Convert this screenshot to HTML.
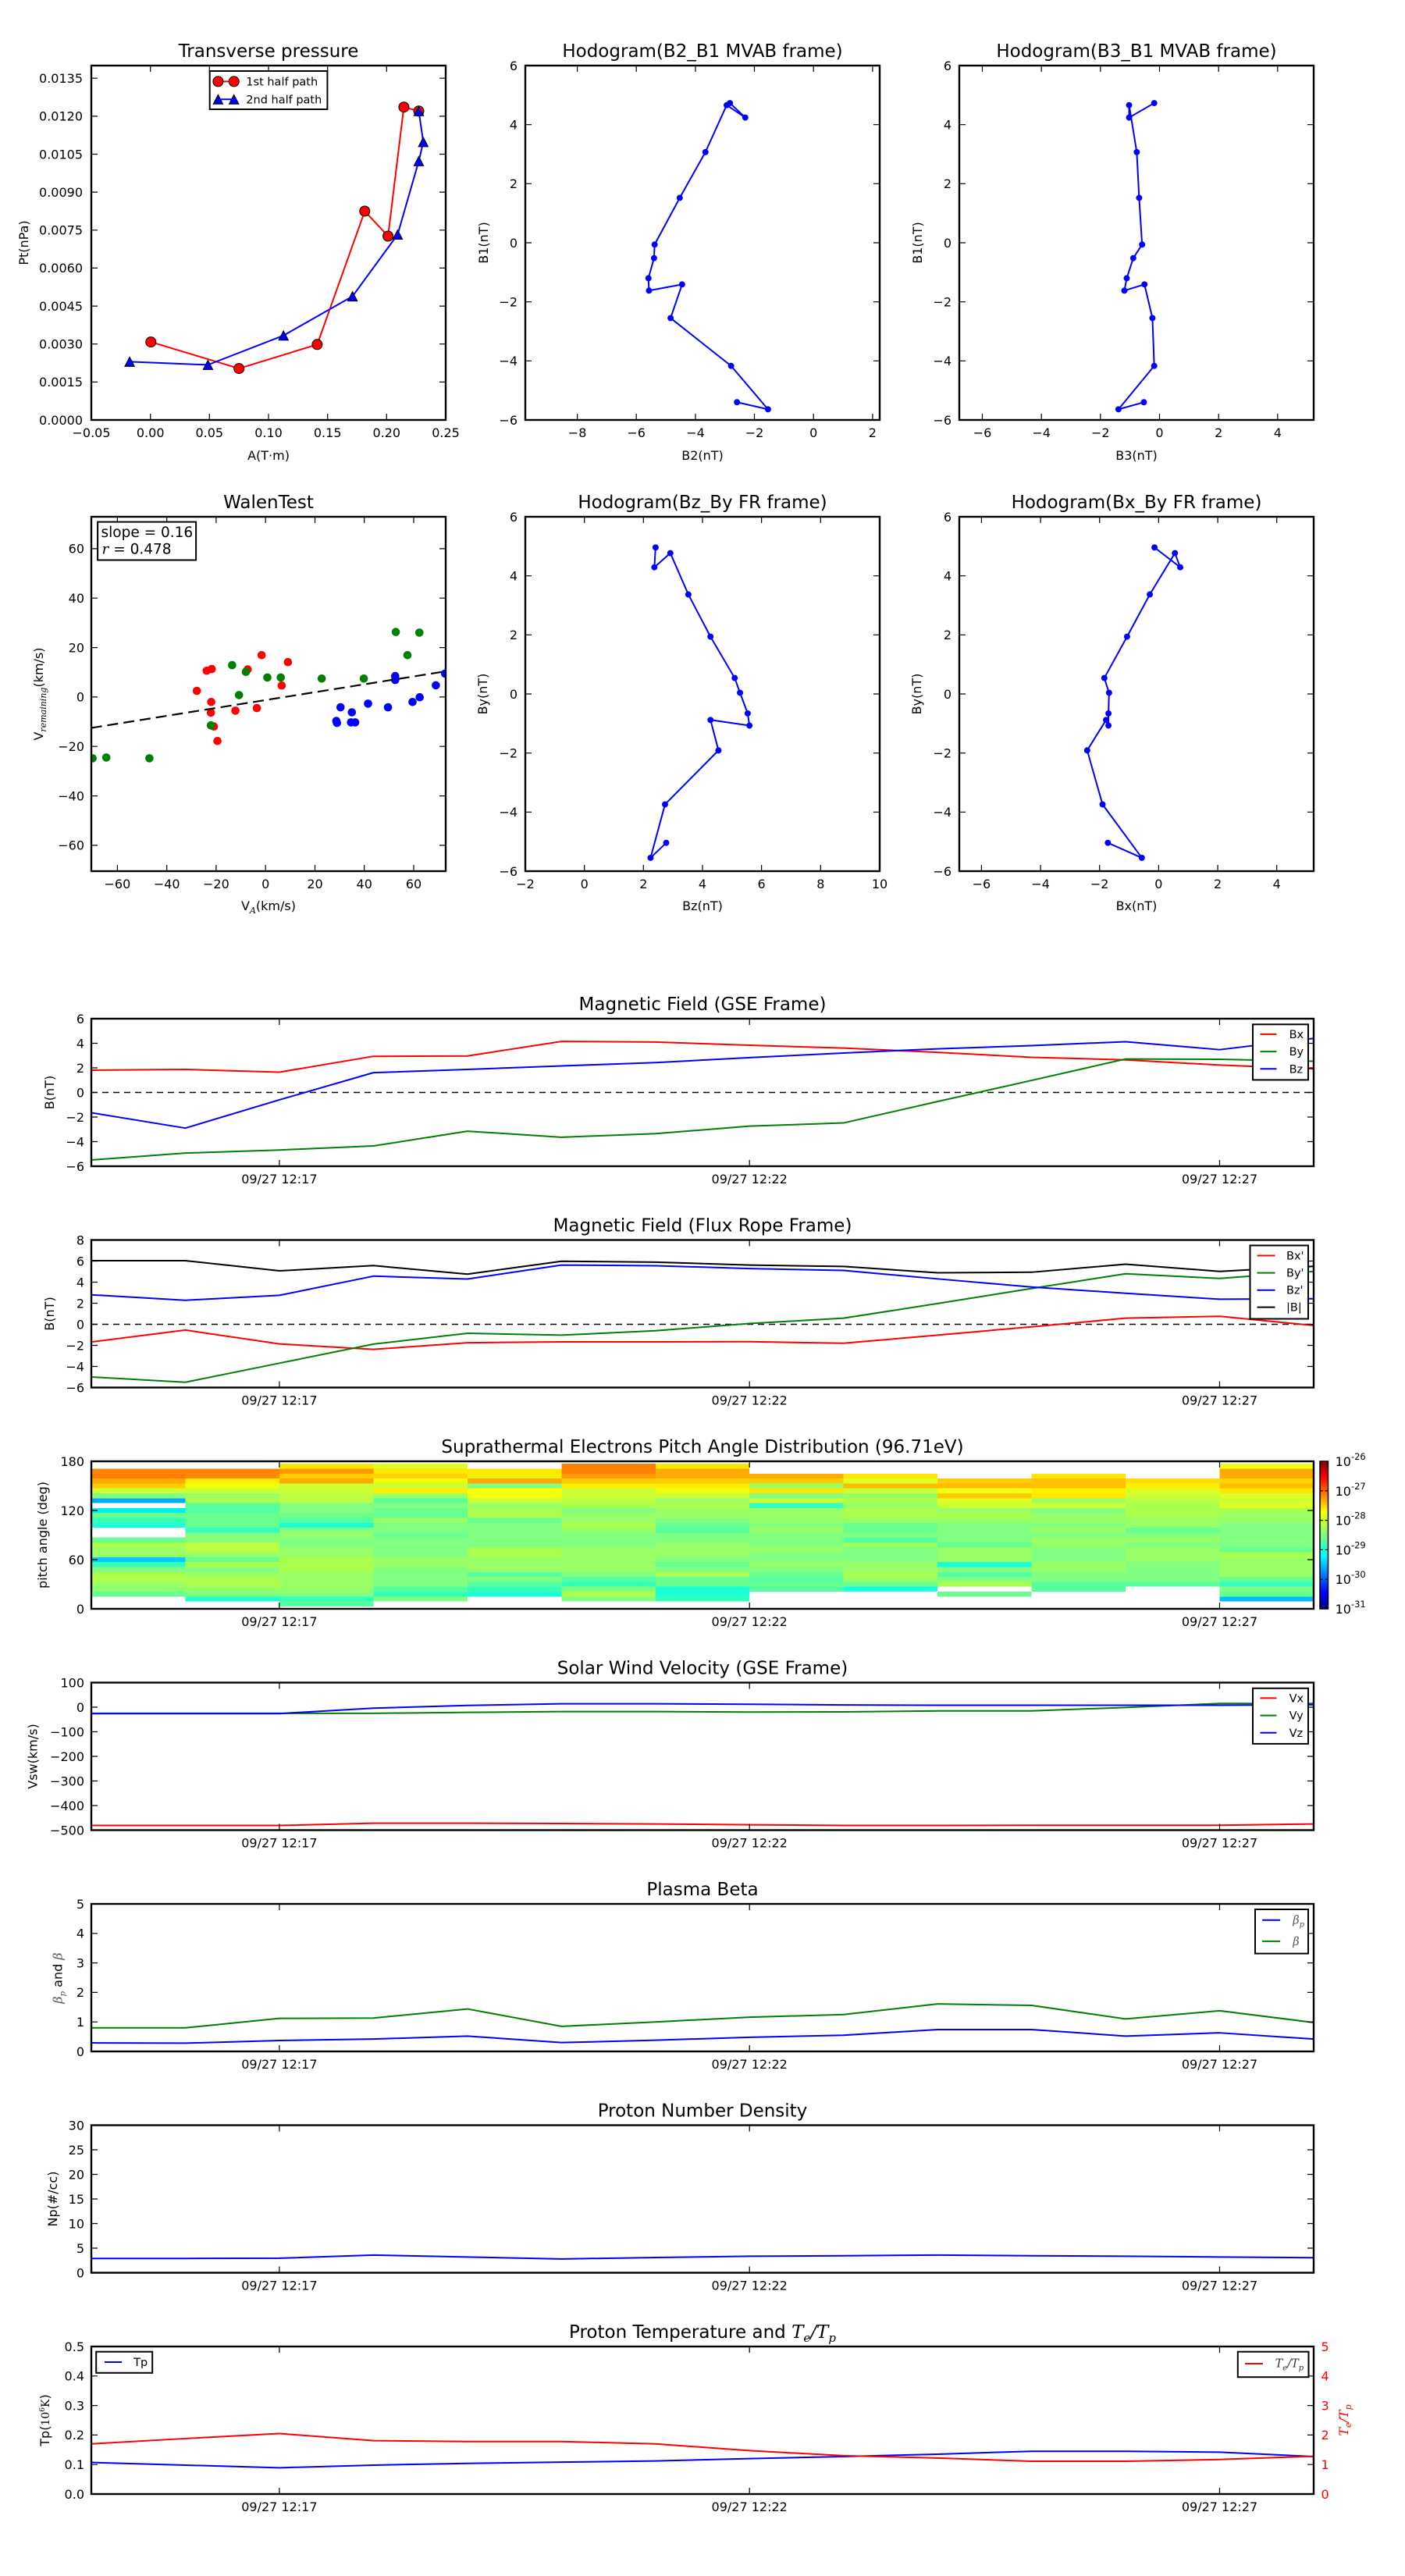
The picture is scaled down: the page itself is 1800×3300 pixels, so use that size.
<!DOCTYPE html>
<html><head><meta charset="utf-8">
<style>
html,body{margin:0;padding:0;background:#fff}
svg{display:block}
text{font-family:"DejaVu Sans","Liberation Sans",sans-serif;fill:#000}
.t{font-size:23px;text-anchor:middle}
.yl{font-size:16px;text-anchor:end}
.xl{font-size:16px;text-anchor:middle}
.lb{font-size:16px;text-anchor:middle}
.lg{font-size:14.5px}
.m{font-family:"DejaVu Serif","Liberation Serif",serif;font-style:italic}
.ax{fill:none;stroke:#000;stroke-width:2.4}
.tc{fill:none;stroke:#000;stroke-width:1.2}
.ln{fill:none;stroke-width:2;vector-effect:non-scaling-stroke;stroke-linejoin:round}
.lf{fill:#fff;stroke:#000;stroke-width:2}
</style></head><body>
<svg xmlns="http://www.w3.org/2000/svg" width="1800" height="3300" viewBox="0 0 1800 3300">
<defs>
<clipPath id="cp1"><rect x="117" y="84" width="454" height="454"/></clipPath>
<clipPath id="cp2"><rect x="673" y="84" width="454" height="454"/></clipPath>
<clipPath id="cp3"><rect x="1229" y="84" width="454" height="454"/></clipPath>
<clipPath id="cp4"><rect x="117" y="662" width="454" height="454"/></clipPath>
<clipPath id="cp5"><rect x="673" y="662" width="454" height="454"/></clipPath>
<clipPath id="cp6"><rect x="1229" y="662" width="454" height="454"/></clipPath>
<clipPath id="ct1"><rect x="117" y="1305" width="1566" height="189"/></clipPath>
<clipPath id="ct2"><rect x="117" y="1588.5" width="1566" height="189"/></clipPath>
<clipPath id="ct4"><rect x="117" y="2155.5" width="1566" height="189"/></clipPath>
<clipPath id="ct5"><rect x="117" y="2439" width="1566" height="189"/></clipPath>
<clipPath id="ct6"><rect x="117" y="2722.5" width="1566" height="189"/></clipPath>
<clipPath id="ct7"><rect x="117" y="3006" width="1566" height="189"/></clipPath>
<linearGradient id="jet" x1="0" y1="0" x2="0" y2="1">
<stop offset="0" stop-color="#800000"/><stop offset="0.11" stop-color="#ff0000"/><stop offset="0.34" stop-color="#ffff00"/><stop offset="0.5" stop-color="#7dff7a"/><stop offset="0.64" stop-color="#00ffff"/><stop offset="0.89" stop-color="#0000ff"/><stop offset="1" stop-color="#000080"/>
</linearGradient>
</defs>
<rect x="0" y="0" width="1800" height="3300" fill="#fff"/>

<!-- ========== Transverse pressure ========== -->
<text class="t" x="344" y="73">Transverse pressure</text>
<g clip-path="url(#cp1)">
<polyline fill="none" stroke="#ff0000" stroke-width="2" points="193.3,438.1 306.2,472.1 406.4,441.3 467.3,270.5 497.1,302.5 517.4,137.2 536.5,142.3"/>
<g fill="#ff0000" stroke="#000" stroke-width="1">
<circle cx="193.3" cy="438.1" r="6.5"/><circle cx="306.2" cy="472.1" r="6.5"/><circle cx="406.4" cy="441.3" r="6.5"/><circle cx="467.3" cy="270.5" r="6.5"/><circle cx="497.1" cy="302.5" r="6.5"/><circle cx="517.4" cy="137.2" r="6.5"/><circle cx="536.5" cy="142.3" r="6.5"/>
</g>
<polyline fill="none" stroke="#0000ff" stroke-width="2" points="166.1,463.4 266.4,467.4 363.2,429.8 451.6,379.6 509.4,300.5 536.5,206.4 542.3,181.9 536.5,142.3"/>
<g fill="#0000ff" stroke="#000" stroke-width="1">
<polygon points="166.1,457.4 159.9,469.4 172.3,469.4"/>
<polygon points="266.4,461.4 260.2,473.4 272.6,473.4"/>
<polygon points="363.2,423.8 357,435.8 369.4,435.8"/>
<polygon points="451.6,373.6 445.4,385.6 457.8,385.6"/>
<polygon points="509.4,294.5 503.2,306.5 515.6,306.5"/>
<polygon points="536.5,200.4 530.3,212.4 542.7,212.4"/>
<polygon points="542.3,175.9 536.1,187.9 548.5,187.9"/>
<polygon points="536.5,136.3 530.3,148.3 542.7,148.3"/>
</g>
</g>
<path class="tc" d="M117 489.4h8M117 440.7h8M117 392.1h8M117 343.4h8M117 294.8h8M117 246.1h8M117 197.5h8M117 148.9h8M117 100.2h8M571 489.4h-8M571 440.7h-8M571 392.1h-8M571 343.4h-8M571 294.8h-8M571 246.1h-8M571 197.5h-8M571 148.9h-8M571 100.2h-8M192.7 538v-8M268.3 538v-8M344 538v-8M419.7 538v-8M495.3 538v-8M192.7 84v8M268.3 84v8M344 84v8M419.7 84v8M495.3 84v8"/>
<rect class="ax" x="117" y="84" width="454" height="454"/>
<g>
<rect class="lf" x="268.7" y="91" width="150.7" height="49"/>
<line x1="279.4" y1="104.4" x2="299.7" y2="104.4" stroke="#ff0000" stroke-width="2"/>
<circle cx="279.4" cy="104.4" r="6.5" fill="#ff0000" stroke="#000"/><circle cx="299.7" cy="104.4" r="6.5" fill="#ff0000" stroke="#000"/>
<text class="lg" x="315.3" y="109.4">1st half path</text>
<line x1="279.4" y1="127.3" x2="299.7" y2="127.3" stroke="#0000ff" stroke-width="2"/>
<polygon points="279.4,121.3 273.2,133.3 285.6,133.3" fill="#0000ff" stroke="#000"/><polygon points="299.7,121.3 293.5,133.3 305.9,133.3" fill="#0000ff" stroke="#000"/>
<text class="lg" x="315.3" y="132.3">2nd half path</text>
</g>
<text class="yl" x="106" y="543.8">0.0000</text><text class="yl" x="106" y="495.2">0.0015</text><text class="yl" x="106" y="446.5">0.0030</text><text class="yl" x="106" y="397.9">0.0045</text><text class="yl" x="106" y="349.2">0.0060</text><text class="yl" x="106" y="300.6">0.0075</text><text class="yl" x="106" y="251.9">0.0090</text><text class="yl" x="106" y="203.3">0.0105</text><text class="yl" x="106" y="154.7">0.0120</text><text class="yl" x="106" y="106">0.0135</text>
<text class="xl" x="117" y="560">−0.05</text><text class="xl" x="192.7" y="560">0.00</text><text class="xl" x="268.3" y="560">0.05</text><text class="xl" x="344" y="560">0.10</text><text class="xl" x="419.7" y="560">0.15</text><text class="xl" x="495.3" y="560">0.20</text><text class="xl" x="571" y="560">0.25</text>
<text class="lb" x="344" y="589">A(T·m)</text>
<text class="lb" transform="translate(36,311) rotate(-90)">Pt(nPa)</text>

<!-- ========== Hodogram B2_B1 ========== -->
<text class="t" x="900" y="73">Hodogram(B2_B1 MVAB frame)</text>
<g clip-path="url(#cp2)"><g transform="translate(1042.2,311) scale(37.83,-37.83)">
<polyline class="ln" stroke="#0000ff" points="-2.83,4.73 -2.31,4.24 -2.94,4.66 -3.66,3.07 -4.53,1.52 -5.38,-0.06 -5.40,-0.52 -5.59,-1.20 -5.57,-1.62 -4.45,-1.41 -4.84,-2.55 -2.79,-4.17 -1.54,-5.64 -2.59,-5.40"/>
<g fill="#0000ff">
<circle cx="-2.83" cy="4.73" r="0.105"/><circle cx="-2.31" cy="4.24" r="0.105"/><circle cx="-2.94" cy="4.66" r="0.105"/><circle cx="-3.66" cy="3.07" r="0.105"/><circle cx="-4.53" cy="1.52" r="0.105"/><circle cx="-5.38" cy="-0.06" r="0.105"/><circle cx="-5.40" cy="-0.52" r="0.105"/><circle cx="-5.59" cy="-1.20" r="0.105"/><circle cx="-5.57" cy="-1.62" r="0.105"/><circle cx="-4.45" cy="-1.41" r="0.105"/><circle cx="-4.84" cy="-2.55" r="0.105"/><circle cx="-2.79" cy="-4.17" r="0.105"/><circle cx="-1.54" cy="-5.64" r="0.105"/><circle cx="-2.59" cy="-5.40" r="0.105"/>
</g></g></g>
<path class="tc" d="M673 159.7h8M673 235.3h8M673 311h8M673 386.7h8M673 462.3h8M1127 159.7h-8M1127 235.3h-8M1127 311h-8M1127 386.7h-8M1127 462.3h-8M739.6 538v-8M815.2 538v-8M891 538v-8M966.5 538v-8M1042.2 538v-8M1117.9 538v-8M739.6 84v8M815.2 84v8M891 84v8M966.5 84v8M1042.2 84v8M1117.9 84v8"/>
<rect class="ax" x="673" y="84" width="454" height="454"/>
<text class="yl" x="663" y="89.8">6</text><text class="yl" x="663" y="165.5">4</text><text class="yl" x="663" y="241.1">2</text><text class="yl" x="663" y="316.8">0</text><text class="yl" x="663" y="392.5">−2</text><text class="yl" x="663" y="468.1">−4</text><text class="yl" x="663" y="543.8">−6</text>
<text class="xl" x="739.6" y="560">−8</text><text class="xl" x="815.2" y="560">−6</text><text class="xl" x="891" y="560">−4</text><text class="xl" x="966.5" y="560">−2</text><text class="xl" x="1042.2" y="560">0</text><text class="xl" x="1117.9" y="560">2</text>
<text class="lb" x="900" y="589">B2(nT)</text>
<text class="lb" transform="translate(625,311) rotate(-90)">B1(nT)</text>

<!-- ========== Hodogram B3_B1 ========== -->
<text class="t" x="1456" y="73">Hodogram(B3_B1 MVAB frame)</text>
<g clip-path="url(#cp3)"><g transform="translate(1485.5,311) scale(37.83,-37.83)">
<polyline class="ln" stroke="#0000ff" points="-0.18,4.73 -1.03,4.24 -1.03,4.66 -0.77,3.07 -0.69,1.52 -0.59,-0.06 -0.89,-0.52 -1.11,-1.20 -1.19,-1.62 -0.51,-1.41 -0.24,-2.55 -0.18,-4.17 -1.39,-5.64 -0.53,-5.40"/>
<g fill="#0000ff">
<circle cx="-0.18" cy="4.73" r="0.105"/><circle cx="-1.03" cy="4.24" r="0.105"/><circle cx="-1.03" cy="4.66" r="0.105"/><circle cx="-0.77" cy="3.07" r="0.105"/><circle cx="-0.69" cy="1.52" r="0.105"/><circle cx="-0.59" cy="-0.06" r="0.105"/><circle cx="-0.89" cy="-0.52" r="0.105"/><circle cx="-1.11" cy="-1.20" r="0.105"/><circle cx="-1.19" cy="-1.62" r="0.105"/><circle cx="-0.51" cy="-1.41" r="0.105"/><circle cx="-0.24" cy="-2.55" r="0.105"/><circle cx="-0.18" cy="-4.17" r="0.105"/><circle cx="-1.39" cy="-5.64" r="0.105"/><circle cx="-0.53" cy="-5.40" r="0.105"/>
</g></g></g>
<path class="tc" d="M1229 159.7h8M1229 235.3h8M1229 311h8M1229 386.7h8M1229 462.3h8M1683 159.7h-8M1683 235.3h-8M1683 311h-8M1683 386.7h-8M1683 462.3h-8M1258.5 538v-8M1334.2 538v-8M1409.8 538v-8M1485.5 538v-8M1561.2 538v-8M1636.8 538v-8M1258.5 84v8M1334.2 84v8M1409.8 84v8M1485.5 84v8M1561.2 84v8M1636.8 84v8"/>
<rect class="ax" x="1229" y="84" width="454" height="454"/>
<text class="yl" x="1219" y="89.8">6</text><text class="yl" x="1219" y="165.5">4</text><text class="yl" x="1219" y="241.1">2</text><text class="yl" x="1219" y="316.8">0</text><text class="yl" x="1219" y="392.5">−2</text><text class="yl" x="1219" y="468.1">−4</text><text class="yl" x="1219" y="543.8">−6</text>
<text class="xl" x="1258.5" y="560">−6</text><text class="xl" x="1334.2" y="560">−4</text><text class="xl" x="1409.8" y="560">−2</text><text class="xl" x="1485.5" y="560">0</text><text class="xl" x="1561.2" y="560">2</text><text class="xl" x="1636.8" y="560">4</text>
<text class="lb" x="1456" y="589">B3(nT)</text>
<text class="lb" transform="translate(1181,311) rotate(-90)">B1(nT)</text>

<!-- ========== WalenTest ========== -->
<text class="t" x="344" y="651">WalenTest</text>
<g clip-path="url(#cp4)">
<g fill="#ff0000">
<circle cx="252.2" cy="885" r="5.3"/><circle cx="264.8" cy="859.3" r="5.3"/><circle cx="271.3" cy="857.1" r="5.3"/><circle cx="270.6" cy="899.3" r="5.3"/><circle cx="270.2" cy="912.9" r="5.3"/><circle cx="274" cy="930.7" r="5.3"/><circle cx="278.6" cy="949.3" r="5.3"/><circle cx="301.6" cy="910.4" r="5.3"/><circle cx="317.3" cy="857.5" r="5.3"/><circle cx="329.1" cy="907.1" r="5.3"/><circle cx="335.2" cy="839.3" r="5.3"/><circle cx="360.9" cy="878.2" r="5.3"/><circle cx="368.9" cy="848.2" r="5.3"/>
</g>
<g fill="#0000ff">
<circle cx="430.9" cy="923.6" r="5.3"/><circle cx="431.7" cy="926.1" r="5.3"/><circle cx="436.3" cy="906.1" r="5.3"/><circle cx="450.8" cy="912.5" r="5.3"/><circle cx="449.7" cy="925.4" r="5.3"/><circle cx="455" cy="925.4" r="5.3"/><circle cx="471.5" cy="901.4" r="5.3"/><circle cx="497.1" cy="906.1" r="5.3"/><circle cx="506.3" cy="866.1" r="5.3"/><circle cx="506.3" cy="871.1" r="5.3"/><circle cx="528.5" cy="899.3" r="5.3"/><circle cx="537.7" cy="893.2" r="5.3"/><circle cx="558.4" cy="877.9" r="5.3"/><circle cx="570.2" cy="862.9" r="5.3"/>
</g>
<g fill="#008000">
<circle cx="118.6" cy="971.4" r="5.3"/><circle cx="136.2" cy="970.4" r="5.3"/><circle cx="191.4" cy="971.4" r="5.3"/><circle cx="270.2" cy="929.3" r="5.3"/><circle cx="297.4" cy="852.1" r="5.3"/><circle cx="306.2" cy="890.4" r="5.3"/><circle cx="315" cy="860.7" r="5.3"/><circle cx="342.5" cy="867.9" r="5.3"/><circle cx="359.7" cy="867.9" r="5.3"/><circle cx="412.2" cy="869.3" r="5.3"/><circle cx="466.1" cy="869.3" r="5.3"/><circle cx="507.1" cy="809.6" r="5.3"/><circle cx="522" cy="839.3" r="5.3"/><circle cx="537.3" cy="810.4" r="5.3"/>
</g>
<line x1="116.7" y1="932.5" x2="571" y2="860" stroke="#000" stroke-width="2.2" stroke-dasharray="14,7"/>
</g>
<path class="tc" d="M117 702.9h8M117 766.2h8M117 829.6h8M117 892.9h8M117 956.2h8M117 1019.6h8M117 1082.9h8M571 702.9h-8M571 766.2h-8M571 829.6h-8M571 892.9h-8M571 956.2h-8M571 1019.6h-8M571 1082.9h-8M150.4 1116v-8M213.7 1116v-8M276.9 1116v-8M340.2 1116v-8M403.5 1116v-8M466.7 1116v-8M530 1116v-8M150.4 662v8M213.7 662v8M276.9 662v8M340.2 662v8M403.5 662v8M466.7 662v8M530 662v8"/>
<rect class="ax" x="117" y="662" width="454" height="454"/>
<rect x="125.1" y="668.6" width="126" height="48.9" fill="#fff" stroke="#000" stroke-width="2"/>
<text x="129.5" y="688" font-size="18.5">slope = 0.16</text>
<text x="130.5" y="709.5" font-size="18.5"><tspan class="m">r</tspan> = 0.478</text>
<text class="yl" x="108" y="708.7">60</text><text class="yl" x="108" y="772">40</text><text class="yl" x="108" y="835.4">20</text><text class="yl" x="108" y="898.7">0</text><text class="yl" x="108" y="962">−20</text><text class="yl" x="108" y="1025.4">−40</text><text class="yl" x="108" y="1088.7">−60</text>
<text class="xl" x="150.4" y="1138">−60</text><text class="xl" x="213.7" y="1138">−40</text><text class="xl" x="276.9" y="1138">−20</text><text class="xl" x="340.2" y="1138">0</text><text class="xl" x="403.5" y="1138">20</text><text class="xl" x="466.7" y="1138">40</text><text class="xl" x="530" y="1138">60</text>
<text class="lb" x="344" y="1166">V<tspan class="m" font-size="11" dy="4">A</tspan><tspan dy="-4">(km/s)</tspan></text>
<text class="lb" transform="translate(55,889) rotate(-90)">V<tspan class="m" font-size="11" dy="4">remaining</tspan><tspan dy="-4">(km/s)</tspan></text>

<!-- ========== Hodogram Bz_By ========== -->
<text class="t" x="900" y="651">Hodogram(Bz_By FR frame)</text>
<g clip-path="url(#cp5)"><g transform="translate(748.7,889) scale(37.83,-37.83)">
<polyline class="ln" stroke="#0000ff" points="2.41,4.96 2.37,4.29 2.91,4.77 3.52,3.37 4.27,1.94 5.09,0.54 5.27,0.04 5.53,-0.66 5.59,-1.07 4.27,-0.88 4.54,-1.91 2.73,-3.74 2.24,-5.55 2.77,-5.04"/>
<g fill="#0000ff">
<circle cx="2.41" cy="4.96" r="0.105"/><circle cx="2.37" cy="4.29" r="0.105"/><circle cx="2.91" cy="4.77" r="0.105"/><circle cx="3.52" cy="3.37" r="0.105"/><circle cx="4.27" cy="1.94" r="0.105"/><circle cx="5.09" cy="0.54" r="0.105"/><circle cx="5.27" cy="0.04" r="0.105"/><circle cx="5.53" cy="-0.66" r="0.105"/><circle cx="5.59" cy="-1.07" r="0.105"/><circle cx="4.27" cy="-0.88" r="0.105"/><circle cx="4.54" cy="-1.91" r="0.105"/><circle cx="2.73" cy="-3.74" r="0.105"/><circle cx="2.24" cy="-5.55" r="0.105"/><circle cx="2.77" cy="-5.04" r="0.105"/>
</g></g></g>
<path class="tc" d="M673 737.7h8M673 813.3h8M673 889h8M673 964.7h8M673 1040.3h8M1127 737.7h-8M1127 813.3h-8M1127 889h-8M1127 964.7h-8M1127 1040.3h-8M748.7 1116v-8M824.3 1116v-8M900 1116v-8M975.6 1116v-8M1051.3 1116v-8M748.7 662v8M824.3 662v8M900 662v8M975.6 662v8M1051.3 662v8"/>
<rect class="ax" x="673" y="662" width="454" height="454"/>
<text class="yl" x="663" y="667.8">6</text><text class="yl" x="663" y="743.5">4</text><text class="yl" x="663" y="819.1">2</text><text class="yl" x="663" y="894.8">0</text><text class="yl" x="663" y="970.5">−2</text><text class="yl" x="663" y="1046.1">−4</text><text class="yl" x="663" y="1121.8">−6</text>
<text class="xl" x="673" y="1138">−2</text><text class="xl" x="748.7" y="1138">0</text><text class="xl" x="824.3" y="1138">2</text><text class="xl" x="900" y="1138">4</text><text class="xl" x="975.6" y="1138">6</text><text class="xl" x="1051.3" y="1138">8</text><text class="xl" x="1127" y="1138">10</text>
<text class="lb" x="900" y="1166">Bz(nT)</text>
<text class="lb" transform="translate(624,889) rotate(-90)">By(nT)</text>

<!-- ========== Hodogram Bx_By ========== -->
<text class="t" x="1456" y="651">Hodogram(Bx_By FR frame)</text>
<g clip-path="url(#cp6)"><g transform="translate(1484.4,889) scale(37.83,-37.83)">
<polyline class="ln" stroke="#0000ff" points="-0.14,4.96 0.73,4.29 0.55,4.77 -0.30,3.37 -1.07,1.94 -1.84,0.54 -1.68,0.04 -1.70,-0.66 -1.70,-1.07 -1.78,-0.88 -2.42,-1.91 -1.90,-3.74 -0.57,-5.55 -1.72,-5.04"/>
<g fill="#0000ff">
<circle cx="-0.14" cy="4.96" r="0.105"/><circle cx="0.73" cy="4.29" r="0.105"/><circle cx="0.55" cy="4.77" r="0.105"/><circle cx="-0.30" cy="3.37" r="0.105"/><circle cx="-1.07" cy="1.94" r="0.105"/><circle cx="-1.84" cy="0.54" r="0.105"/><circle cx="-1.68" cy="0.04" r="0.105"/><circle cx="-1.70" cy="-0.66" r="0.105"/><circle cx="-1.70" cy="-1.07" r="0.105"/><circle cx="-1.78" cy="-0.88" r="0.105"/><circle cx="-2.42" cy="-1.91" r="0.105"/><circle cx="-1.90" cy="-3.74" r="0.105"/><circle cx="-0.57" cy="-5.55" r="0.105"/><circle cx="-1.72" cy="-5.04" r="0.105"/>
</g></g></g>
<path class="tc" d="M1229 737.7h8M1229 813.3h8M1229 889h8M1229 964.7h8M1229 1040.3h8M1683 737.7h-8M1683 813.3h-8M1683 889h-8M1683 964.7h-8M1683 1040.3h-8M1257.4 1116v-8M1333.1 1116v-8M1408.7 1116v-8M1484.4 1116v-8M1560.1 1116v-8M1635.7 1116v-8M1257.4 662v8M1333.1 662v8M1408.7 662v8M1484.4 662v8M1560.1 662v8M1635.7 662v8"/>
<rect class="ax" x="1229" y="662" width="454" height="454"/>
<text class="yl" x="1219" y="667.8">6</text><text class="yl" x="1219" y="743.5">4</text><text class="yl" x="1219" y="819.1">2</text><text class="yl" x="1219" y="894.8">0</text><text class="yl" x="1219" y="970.5">−2</text><text class="yl" x="1219" y="1046.1">−4</text><text class="yl" x="1219" y="1121.8">−6</text>
<text class="xl" x="1257.4" y="1138">−6</text><text class="xl" x="1333.1" y="1138">−4</text><text class="xl" x="1408.7" y="1138">−2</text><text class="xl" x="1484.4" y="1138">0</text><text class="xl" x="1560.1" y="1138">2</text><text class="xl" x="1635.7" y="1138">4</text>
<text class="lb" x="1456" y="1166">Bx(nT)</text>
<text class="lb" transform="translate(1180,889) rotate(-90)">By(nT)</text>

<!-- ========== Magnetic Field GSE ========== -->
<text class="t" x="900" y="1294">Magnetic Field (GSE Frame)</text>
<line x1="117" y1="1399.5" x2="1683" y2="1399.5" stroke="#000" stroke-width="1.5" stroke-dasharray="8,6"/>
<g clip-path="url(#ct1)"><g transform="translate(117,1399.5) scale(120.46,-15.75)">
<polyline class="ln" stroke="#ff0000" points="0,1.81 1,1.87 2,1.65 3,2.94 4,2.97 5,4.15 6,4.1 7,3.84 8,3.61 9,3.26 10,2.86 11,2.65 12,2.23 13,1.92"/>
<polyline class="ln" stroke="#008000" points="0,-5.49 1,-4.93 2,-4.68 3,-4.35 4,-3.15 5,-3.64 6,-3.35 7,-2.74 8,-2.48 9,-0.74 10,0.98 11,2.72 12,2.70 13,2.54"/>
<polyline class="ln" stroke="#0000ff" points="0,-1.65 1,-2.9 2,-0.6 3,1.61 4,1.87 5,2.16 6,2.43 7,2.83 8,3.21 9,3.55 10,3.81 11,4.13 12,3.48 13,4.4"/>
</g></g>
<path class="tc" d="M117 1336.5h8M117 1368h8M117 1399.5h8M117 1431h8M117 1462.5h8M1683 1336.5h-8M1683 1368h-8M1683 1399.5h-8M1683 1431h-8M1683 1462.5h-8M357.9 1494v-8M960.2 1494v-8M1562.5 1494v-8M357.9 1305v8M960.2 1305v8M1562.5 1305v8"/>
<rect class="ax" x="117" y="1305" width="1566" height="189"/>
<rect class="lf" x="1605" y="1312.3" width="71" height="71.1"/>
<line x1="1614.5" y1="1324.9" x2="1635.5" y2="1324.9" stroke="#ff0000" stroke-width="2"/><text class="lg" x="1651.6" y="1329.9">Bx</text>
<line x1="1614.5" y1="1347.1" x2="1635.5" y2="1347.1" stroke="#008000" stroke-width="2"/><text class="lg" x="1651.6" y="1352.1">By</text>
<line x1="1614.5" y1="1369.3" x2="1635.5" y2="1369.3" stroke="#0000ff" stroke-width="2"/><text class="lg" x="1651.6" y="1374.3">Bz</text>
<text class="yl" x="108" y="1310.8">6</text><text class="yl" x="108" y="1342.3">4</text><text class="yl" x="108" y="1373.8">2</text><text class="yl" x="108" y="1405.3">0</text><text class="yl" x="108" y="1436.8">−2</text><text class="yl" x="108" y="1468.3">−4</text><text class="yl" x="108" y="1499.8">−6</text>
<text class="xl" x="357.9" y="1516">09/27 12:17</text><text class="xl" x="960.2" y="1516">09/27 12:22</text><text class="xl" x="1562.5" y="1516">09/27 12:27</text>
<text class="lb" transform="translate(69,1399.5) rotate(-90)">B(nT)</text>

<!-- ========== Magnetic Field FR ========== -->
<text class="t" x="900" y="1577.5">Magnetic Field (Flux Rope Frame)</text>
<line x1="117" y1="1696.5" x2="1683" y2="1696.5" stroke="#000" stroke-width="1.5" stroke-dasharray="8,6"/>
<g clip-path="url(#ct2)"><g transform="translate(117,1696.5) scale(120.46,-13.5)">
<polyline class="ln" stroke="#ff0000" points="0,-1.68 1,-0.55 2,-1.86 3,-2.38 4,-1.75 5,-1.67 6,-1.67 7,-1.65 8,-1.8 9,-1.03 10,-0.24 11,0.58 12,0.76 13,-0.11"/>
<polyline class="ln" stroke="#008000" points="0,-5.0 1,-5.5 2,-3.69 3,-1.88 4,-0.85 5,-1.03 6,-0.61 7,0.07 8,0.58 9,1.97 10,3.4 11,4.8 12,4.35 13,5.02"/>
<polyline class="ln" stroke="#0000ff" points="0,2.8 1,2.28 2,2.75 3,4.57 4,4.3 5,5.62 6,5.56 7,5.29 8,5.11 9,4.31 10,3.54 11,2.94 12,2.38 13,2.43"/>
<polyline class="ln" stroke="#000000" points="0,6.04 1,6.04 2,5.07 3,5.57 4,4.76 5,5.98 6,5.9 7,5.62 8,5.49 9,4.89 10,4.94 11,5.7 12,5.02 13,5.5"/>
</g></g>
<path class="tc" d="M117 1615.5h8M117 1642.5h8M117 1669.5h8M117 1696.5h8M117 1723.5h8M117 1750.5h8M1683 1615.5h-8M1683 1642.5h-8M1683 1669.5h-8M1683 1696.5h-8M1683 1723.5h-8M1683 1750.5h-8M357.9 1777.5v-8M960.2 1777.5v-8M1562.5 1777.5v-8M357.9 1588.5v8M960.2 1588.5v8M1562.5 1588.5v8"/>
<rect class="ax" x="117" y="1588.5" width="1566" height="189"/>
<rect class="lf" x="1601.5" y="1595.5" width="74.5" height="94"/>
<line x1="1610.5" y1="1608.5" x2="1633.5" y2="1608.5" stroke="#ff0000" stroke-width="2"/><text class="lg" x="1648" y="1613.5">Bx'</text>
<line x1="1610.5" y1="1630.6" x2="1633.5" y2="1630.6" stroke="#008000" stroke-width="2"/><text class="lg" x="1648" y="1635.6">By'</text>
<line x1="1610.5" y1="1652.7" x2="1633.5" y2="1652.7" stroke="#0000ff" stroke-width="2"/><text class="lg" x="1648" y="1657.7">Bz'</text>
<line x1="1610.5" y1="1674.6" x2="1633.5" y2="1674.6" stroke="#000" stroke-width="2"/><text class="lg" x="1648" y="1679.6">|B|</text>
<text class="yl" x="108" y="1594.3">8</text><text class="yl" x="108" y="1621.3">6</text><text class="yl" x="108" y="1648.3">4</text><text class="yl" x="108" y="1675.3">2</text><text class="yl" x="108" y="1702.3">0</text><text class="yl" x="108" y="1729.3">−2</text><text class="yl" x="108" y="1756.3">−4</text><text class="yl" x="108" y="1783.3">−6</text>
<text class="xl" x="357.9" y="1799.5">09/27 12:17</text><text class="xl" x="960.2" y="1799.5">09/27 12:22</text><text class="xl" x="1562.5" y="1799.5">09/27 12:27</text>
<text class="lb" transform="translate(69,1683) rotate(-90)">B(nT)</text>

<!-- ========== Pitch angle ========== -->
<text class="t" x="900" y="1861">Suprathermal Electrons Pitch Angle Distribution (96.71eV)</text>
<g transform="translate(117,1875.15) scale(120.46,6.3)" shape-rendering="crispEdges">
<!-- col 0 -->
<rect x="0" y="1" width="1" height="1" fill="#ff8800"/><rect x="0" y="2" width="1" height="1" fill="#ff7a00"/><rect x="0" y="3" width="1" height="1" fill="#ffaa00"/><rect x="0" y="4" width="1" height="1" fill="#ffcc00"/><rect x="0" y="5" width="1" height="1" fill="#ccff33"/><rect x="0" y="6" width="1" height="1" fill="#80ff80"/><rect x="0" y="7" width="1" height="1" fill="#00aaff"/><rect x="0" y="9" width="1" height="1" fill="#00eeee"/><rect x="0" y="10" width="1" height="1" fill="#66ff90"/><rect x="0" y="11" width="1" height="1" fill="#33ffb8"/><rect x="0" y="12" width="1" height="1" fill="#1affd5"/><rect x="0" y="15" width="1" height="1" fill="#66ff90"/><rect x="0" y="16" width="1" height="1" fill="#aaff4d"/><rect x="0" y="17" width="1" height="2" fill="#99ff66"/><rect x="0" y="19" width="1" height="1" fill="#00ccff"/><rect x="0" y="20" width="1" height="1" fill="#33ffb8"/><rect x="0" y="21" width="1" height="1" fill="#80ff80"/><rect x="0" y="22" width="1" height="1" fill="#aaff4d"/><rect x="0" y="23" width="1" height="1" fill="#b0ff48"/><rect x="0" y="24" width="1" height="1" fill="#99ff66"/><rect x="0" y="25" width="1" height="1" fill="#8cff70"/><rect x="0" y="26" width="1" height="1" fill="#66ff90"/>
<!-- col 1 -->
<rect x="1" y="1" width="1" height="1" fill="#ff8800"/><rect x="1" y="2" width="1" height="1" fill="#ff8c00"/><rect x="1" y="3" width="1" height="1" fill="#ffee00"/><rect x="1" y="4" width="1" height="1" fill="#eeff10"/><rect x="1" y="5" width="1" height="1" fill="#ccff33"/><rect x="1" y="6" width="1" height="1" fill="#99ff66"/><rect x="1" y="7" width="1" height="1" fill="#aaff4d"/><rect x="1" y="8" width="1" height="2" fill="#55ffa0"/><rect x="1" y="10" width="1" height="3" fill="#66ff90"/><rect x="1" y="13" width="1" height="1" fill="#33ffc0"/><rect x="1" y="14" width="1" height="1" fill="#80ff80"/><rect x="1" y="15" width="1" height="1" fill="#8cff70"/><rect x="1" y="16" width="1" height="2" fill="#bbff44"/><rect x="1" y="18" width="1" height="1" fill="#99ff66"/><rect x="1" y="19" width="1" height="1" fill="#66ff90"/><rect x="1" y="20" width="1" height="1" fill="#aaff4d"/><rect x="1" y="21" width="1" height="1" fill="#80ff80"/><rect x="1" y="22" width="1" height="1" fill="#99ff66"/><rect x="1" y="23" width="1" height="2" fill="#aaff4d"/><rect x="1" y="25" width="1" height="1" fill="#99ff66"/><rect x="1" y="26" width="1" height="1" fill="#80ff80"/><rect x="1" y="27" width="1" height="1" fill="#1affd5"/>
<!-- col 2 -->
<rect x="2" y="0" width="1" height="1" fill="#ffe600"/><rect x="2" y="1" width="1" height="1" fill="#ff9900"/><rect x="2" y="2" width="1" height="1" fill="#ffcc00"/><rect x="2" y="3" width="1" height="1" fill="#ffaa00"/><rect x="2" y="4" width="1" height="2" fill="#ccff33"/><rect x="2" y="6" width="1" height="2" fill="#bbff44"/><rect x="2" y="8" width="1" height="2" fill="#80ff80"/><rect x="2" y="10" width="1" height="1" fill="#6cff8a"/><rect x="2" y="11" width="1" height="1" fill="#55ffa0"/><rect x="2" y="12" width="1" height="1" fill="#1affd5"/><rect x="2" y="13" width="1" height="1" fill="#80ff80"/><rect x="2" y="14" width="1" height="1" fill="#99ff66"/><rect x="2" y="15" width="1" height="2" fill="#80ff80"/><rect x="2" y="17" width="1" height="2" fill="#99ff66"/><rect x="2" y="19" width="1" height="3" fill="#aaff4d"/><rect x="2" y="22" width="1" height="4" fill="#99ff66"/><rect x="2" y="26" width="1" height="1" fill="#80ff80"/><rect x="2" y="27" width="1" height="1" fill="#33ffb8"/><rect x="2" y="28" width="1" height="1" fill="#55ffa0"/>
<!-- col 3 -->
<rect x="3" y="0" width="1" height="1" fill="#ddff22"/><rect x="3" y="1" width="1" height="1" fill="#ffe600"/><rect x="3" y="2" width="1" height="1" fill="#ffd500"/><rect x="3" y="3" width="1" height="1" fill="#eeff10"/><rect x="3" y="4" width="1" height="1" fill="#ccff33"/><rect x="3" y="5" width="1" height="1" fill="#ffee00"/><rect x="3" y="6" width="1" height="1" fill="#99ff66"/><rect x="3" y="7" width="1" height="1" fill="#55ffa0"/><rect x="3" y="8" width="1" height="1" fill="#80ff80"/><rect x="3" y="9" width="1" height="2" fill="#66ff90"/><rect x="3" y="11" width="1" height="1" fill="#99ff66"/><rect x="3" y="12" width="1" height="2" fill="#80ff80"/><rect x="3" y="14" width="1" height="1" fill="#66ff90"/><rect x="3" y="15" width="1" height="4" fill="#80ff80"/><rect x="3" y="19" width="1" height="2" fill="#99ff66"/><rect x="3" y="21" width="1" height="4" fill="#80ff80"/><rect x="3" y="25" width="1" height="1" fill="#55ffa0"/><rect x="3" y="26" width="1" height="1" fill="#33ffb8"/><rect x="3" y="27" width="1" height="1" fill="#80ff80"/>
<!-- col 4 -->
<rect x="4" y="1" width="1" height="1" fill="#ffe600"/><rect x="4" y="2" width="1" height="1" fill="#f0f000"/><rect x="4" y="3" width="1" height="1" fill="#ffaa00"/><rect x="4" y="4" width="1" height="1" fill="#80ff80"/><rect x="4" y="5" width="1" height="1" fill="#ffff00"/><rect x="4" y="6" width="1" height="1" fill="#eeff10"/><rect x="4" y="7" width="1" height="1" fill="#ccff33"/><rect x="4" y="8" width="1" height="1" fill="#99ff66"/><rect x="4" y="9" width="1" height="2" fill="#aaff4d"/><rect x="4" y="11" width="1" height="1" fill="#66ff90"/><rect x="4" y="12" width="1" height="5" fill="#80ff80"/><rect x="4" y="17" width="1" height="2" fill="#aaff4d"/><rect x="4" y="19" width="1" height="3" fill="#99ff66"/><rect x="4" y="22" width="1" height="1" fill="#55ffa0"/><rect x="4" y="23" width="1" height="1" fill="#80ff80"/><rect x="4" y="24" width="1" height="1" fill="#55ffa0"/><rect x="4" y="25" width="1" height="1" fill="#33ffb8"/><rect x="4" y="26" width="1" height="1" fill="#1affd5"/>
<!-- col 5 -->
<rect x="5" y="0" width="1" height="2" fill="#ff8000"/><rect x="5" y="2" width="1" height="1" fill="#ff9900"/><rect x="5" y="3" width="1" height="1" fill="#ffcc00"/><rect x="5" y="4" width="1" height="1" fill="#ffee00"/><rect x="5" y="5" width="1" height="2" fill="#ccff33"/><rect x="5" y="7" width="1" height="1" fill="#bbff44"/><rect x="5" y="8" width="1" height="1" fill="#aaff4d"/><rect x="5" y="9" width="1" height="1" fill="#80ff80"/><rect x="5" y="10" width="1" height="2" fill="#99ff66"/><rect x="5" y="12" width="1" height="1" fill="#aaff4d"/><rect x="5" y="13" width="1" height="1" fill="#99ff66"/><rect x="5" y="14" width="1" height="3" fill="#80ff80"/><rect x="5" y="17" width="1" height="5" fill="#99ff66"/><rect x="5" y="22" width="1" height="1" fill="#80ff80"/><rect x="5" y="23" width="1" height="1" fill="#55ffa0"/><rect x="5" y="24" width="1" height="1" fill="#33ffb8"/><rect x="5" y="25" width="1" height="1" fill="#80ff80"/><rect x="5" y="26" width="1" height="1" fill="#aaff4d"/><rect x="5" y="27" width="1" height="1" fill="#80ff80"/>
<!-- col 6 -->
<rect x="6" y="0" width="1" height="1" fill="#ffe600"/><rect x="6" y="1" width="1" height="2" fill="#ffaa00"/><rect x="6" y="3" width="1" height="1" fill="#ffcc00"/><rect x="6" y="4" width="1" height="1" fill="#ffee00"/><rect x="6" y="5" width="1" height="1" fill="#eeff10"/><rect x="6" y="6" width="1" height="1" fill="#ccff33"/><rect x="6" y="7" width="1" height="1" fill="#99ff66"/><rect x="6" y="8" width="1" height="1" fill="#aaff4d"/><rect x="6" y="9" width="1" height="2" fill="#99ff66"/><rect x="6" y="11" width="1" height="1" fill="#80ff80"/><rect x="6" y="12" width="1" height="1" fill="#66ff90"/><rect x="6" y="13" width="1" height="1" fill="#55ffa0"/><rect x="6" y="14" width="1" height="2" fill="#80ff80"/><rect x="6" y="16" width="1" height="3" fill="#99ff66"/><rect x="6" y="19" width="1" height="1" fill="#80ff80"/><rect x="6" y="20" width="1" height="1" fill="#66ff90"/><rect x="6" y="21" width="1" height="1" fill="#80ff80"/><rect x="6" y="22" width="1" height="1" fill="#aaff4d"/><rect x="6" y="23" width="1" height="2" fill="#66ff90"/><rect x="6" y="25" width="1" height="2" fill="#1affd5"/><rect x="6" y="27" width="1" height="1" fill="#33ffb8"/>
<!-- col 7 -->
<rect x="7" y="2" width="1" height="1" fill="#ffaa00"/><rect x="7" y="3" width="1" height="1" fill="#ffcc00"/><rect x="7" y="4" width="1" height="1" fill="#99ff66"/><rect x="7" y="5" width="1" height="1" fill="#ffe600"/><rect x="7" y="6" width="1" height="1" fill="#80ff80"/><rect x="7" y="7" width="1" height="1" fill="#ccff33"/><rect x="7" y="8" width="1" height="1" fill="#33ffc0"/><rect x="7" y="9" width="1" height="3" fill="#99ff66"/><rect x="7" y="12" width="1" height="1" fill="#80ff80"/><rect x="7" y="13" width="1" height="1" fill="#99ff66"/><rect x="7" y="14" width="1" height="3" fill="#80ff80"/><rect x="7" y="17" width="1" height="1" fill="#99ff66"/><rect x="7" y="18" width="1" height="2" fill="#80ff80"/><rect x="7" y="20" width="1" height="1" fill="#99ff66"/><rect x="7" y="21" width="1" height="1" fill="#80ff80"/><rect x="7" y="22" width="1" height="1" fill="#66ff90"/><rect x="7" y="23" width="1" height="1" fill="#55ffa0"/><rect x="7" y="24" width="1" height="1" fill="#66ff90"/><rect x="7" y="25" width="1" height="1" fill="#55ffa0"/>
<!-- col 8 -->
<rect x="8" y="2" width="1" height="1" fill="#ffe600"/><rect x="8" y="3" width="1" height="1" fill="#ddff22"/><rect x="8" y="4" width="1" height="1" fill="#ffbb00"/><rect x="8" y="5" width="1" height="1" fill="#ccff33"/><rect x="8" y="6" width="1" height="1" fill="#99ff66"/><rect x="8" y="7" width="1" height="1" fill="#aaff4d"/><rect x="8" y="8" width="1" height="1" fill="#99ff66"/><rect x="8" y="9" width="1" height="2" fill="#aaff4d"/><rect x="8" y="11" width="1" height="1" fill="#99ff66"/><rect x="8" y="12" width="1" height="2" fill="#66ff90"/><rect x="8" y="14" width="1" height="1" fill="#80ff80"/><rect x="8" y="15" width="1" height="1" fill="#55ffa0"/><rect x="8" y="16" width="1" height="1" fill="#99ff66"/><rect x="8" y="17" width="1" height="3" fill="#80ff80"/><rect x="8" y="20" width="1" height="2" fill="#99ff66"/><rect x="8" y="22" width="1" height="1" fill="#aaff4d"/><rect x="8" y="23" width="1" height="1" fill="#99ff66"/><rect x="8" y="24" width="1" height="1" fill="#66ff90"/><rect x="8" y="25" width="1" height="1" fill="#1affe0"/>
<!-- col 9 -->
<rect x="9" y="3" width="1" height="1" fill="#ffcc00"/><rect x="9" y="4" width="1" height="1" fill="#ffbb00"/><rect x="9" y="5" width="1" height="1" fill="#eeff10"/><rect x="9" y="6" width="1" height="1" fill="#ffc800"/><rect x="9" y="7" width="1" height="1" fill="#ddff22"/><rect x="9" y="8" width="1" height="1" fill="#ccff33"/><rect x="9" y="9" width="1" height="1" fill="#99ff66"/><rect x="9" y="10" width="1" height="1" fill="#aaff4d"/><rect x="9" y="11" width="1" height="1" fill="#99ff66"/><rect x="9" y="12" width="1" height="4" fill="#80ff80"/><rect x="9" y="16" width="1" height="1" fill="#66ff90"/><rect x="9" y="17" width="1" height="3" fill="#99ff66"/><rect x="9" y="20" width="1" height="1" fill="#1affd5"/><rect x="9" y="21" width="1" height="1" fill="#80ff80"/><rect x="9" y="22" width="1" height="1" fill="#55ffa0"/><rect x="9" y="23" width="1" height="1" fill="#80ff80"/><rect x="9" y="24" width="1" height="1" fill="#aaff4d"/><rect x="9" y="26" width="1" height="1" fill="#66ff90"/>
<!-- col 10 -->
<rect x="10" y="2" width="1" height="1" fill="#ffe600"/><rect x="10" y="3" width="1" height="2" fill="#ffc000"/><rect x="10" y="5" width="1" height="1" fill="#ffee00"/><rect x="10" y="6" width="1" height="1" fill="#ffe600"/><rect x="10" y="7" width="1" height="1" fill="#99ff66"/><rect x="10" y="8" width="1" height="1" fill="#ccff33"/><rect x="10" y="9" width="1" height="1" fill="#80ff80"/><rect x="10" y="10" width="1" height="2" fill="#99ff66"/><rect x="10" y="12" width="1" height="1" fill="#80ff80"/><rect x="10" y="13" width="1" height="1" fill="#99ff66"/><rect x="10" y="14" width="1" height="1" fill="#80ff80"/><rect x="10" y="15" width="1" height="2" fill="#99ff66"/><rect x="10" y="17" width="1" height="3" fill="#80ff80"/><rect x="10" y="20" width="1" height="2" fill="#99ff66"/><rect x="10" y="22" width="1" height="2" fill="#80ff80"/><rect x="10" y="24" width="1" height="2" fill="#55ffa0"/>
<!-- col 11 -->
<rect x="11" y="3" width="1" height="1" fill="#ffdd00"/><rect x="11" y="4" width="1" height="1" fill="#ffee00"/><rect x="11" y="5" width="1" height="1" fill="#ddff22"/><rect x="11" y="6" width="1" height="1" fill="#ccff33"/><rect x="11" y="7" width="1" height="1" fill="#bbff44"/><rect x="11" y="8" width="1" height="3" fill="#aaff4d"/><rect x="11" y="11" width="1" height="2" fill="#99ff66"/><rect x="11" y="13" width="1" height="1" fill="#66ff90"/><rect x="11" y="14" width="1" height="1" fill="#80ff80"/><rect x="11" y="15" width="1" height="1" fill="#99ff66"/><rect x="11" y="16" width="1" height="1" fill="#80ff80"/><rect x="11" y="17" width="1" height="3" fill="#99ff66"/><rect x="11" y="20" width="1" height="4" fill="#80ff80"/><rect x="11" y="24" width="1" height="1" fill="#55ffa0"/>
<!-- col 12 -->
<rect x="12" y="0" width="1" height="1" fill="#eeff10"/><rect x="12" y="1" width="1" height="2" fill="#ffaa00"/><rect x="12" y="3" width="1" height="1" fill="#ffd500"/><rect x="12" y="4" width="1" height="1" fill="#ffbb00"/><rect x="12" y="5" width="1" height="1" fill="#ffe600"/><rect x="12" y="6" width="1" height="1" fill="#ddff22"/><rect x="12" y="7" width="1" height="1" fill="#ccff33"/><rect x="12" y="8" width="1" height="1" fill="#ddff22"/><rect x="12" y="9" width="1" height="1" fill="#aaff4d"/><rect x="12" y="10" width="1" height="2" fill="#99ff66"/><rect x="12" y="12" width="1" height="5" fill="#80ff80"/><rect x="12" y="17" width="1" height="1" fill="#66ff90"/><rect x="12" y="18" width="1" height="1" fill="#aaff4d"/><rect x="12" y="19" width="1" height="4" fill="#99ff66"/><rect x="12" y="23" width="1" height="1" fill="#66ff90"/><rect x="12" y="24" width="1" height="1" fill="#33ffc0"/><rect x="12" y="25" width="1" height="1" fill="#80ff80"/><rect x="12" y="26" width="1" height="1" fill="#66ff90"/><rect x="12" y="27" width="1" height="1" fill="#00bbff"/>
</g>
<path class="tc" d="M117 1935h8M117 1998h8M1683 1935h-8M1683 1998h-8M357.9 2061v-8M960.2 2061v-8M1562.5 2061v-8M357.9 1872v8M960.2 1872v8M1562.5 1872v8"/>
<rect class="ax" x="117" y="1872" width="1566" height="189"/>
<rect x="1691" y="1872" width="10.5" height="189" fill="url(#jet)" stroke="#000" stroke-width="1.5"/>
<path class="tc" d="M1691 1909.8h4M1691 1947.6h4M1691 1985.4h4M1691 2023.2h4M1701.5 1909.8h-4M1701.5 1947.6h-4M1701.5 1985.4h-4M1701.5 2023.2h-4"/>
<g font-size="16">
<text x="1710.6" y="1878">10<tspan font-size="11.5" dy="-8">-26</tspan></text>
<text x="1710.6" y="1915.8">10<tspan font-size="11.5" dy="-8">-27</tspan></text>
<text x="1710.6" y="1953.6">10<tspan font-size="11.5" dy="-8">-28</tspan></text>
<text x="1710.6" y="1991.4">10<tspan font-size="11.5" dy="-8">-29</tspan></text>
<text x="1710.6" y="2029.2">10<tspan font-size="11.5" dy="-8">-30</tspan></text>
<text x="1710.6" y="2067">10<tspan font-size="11.5" dy="-8">-31</tspan></text>
</g>
<text class="yl" x="108" y="1877.8">180</text><text class="yl" x="108" y="1940.8">120</text><text class="yl" x="108" y="2003.8">60</text><text class="yl" x="108" y="2066.8">0</text>
<text class="xl" x="357.9" y="2083">09/27 12:17</text><text class="xl" x="960.2" y="2083">09/27 12:22</text><text class="xl" x="1562.5" y="2083">09/27 12:27</text>
<text class="lb" transform="translate(60,1966.5) rotate(-90)">pitch angle (deg)</text>

<!-- ========== Solar Wind Velocity ========== -->
<text class="t" x="900" y="2144.5">Solar Wind Velocity (GSE Frame)</text>
<g clip-path="url(#ct4)"><g transform="translate(117,2187) scale(120.46,-0.315)">
<polyline class="ln" stroke="#ff0000" points="0,-481 1,-481 2,-481 3,-472 4,-472 5,-473 6,-475 7,-478 8,-481 9,-481 10,-480 11,-480 12,-480 13,-475"/>
<polyline class="ln" stroke="#008000" points="0,-25 1,-25 2,-25 3,-25 4,-21 5,-18 6,-18 7,-20 8,-19 9,-15 10,-15 11,-1 12,15 13,15"/>
<polyline class="ln" stroke="#0000ff" points="0,-26 1,-26 2,-26 3,-4 4,7 5,14 6,14 7,12 8,9 9,8 10,8 11,8 12,8 13,10"/>
</g></g>
<path class="tc" d="M117 2187h8M117 2218.5h8M117 2250h8M117 2281.5h8M117 2313h8M1683 2187h-8M1683 2218.5h-8M1683 2250h-8M1683 2281.5h-8M1683 2313h-8M357.9 2344.5v-8M960.2 2344.5v-8M1562.5 2344.5v-8M357.9 2155.5v8M960.2 2155.5v8M1562.5 2155.5v8"/>
<rect class="ax" x="117" y="2155.5" width="1566" height="189"/>
<rect class="lf" x="1605" y="2162.8" width="71" height="71.1"/>
<line x1="1614.5" y1="2175.4" x2="1635.5" y2="2175.4" stroke="#ff0000" stroke-width="2"/><text class="lg" x="1651.6" y="2180.4">Vx</text>
<line x1="1614.5" y1="2197.6" x2="1635.5" y2="2197.6" stroke="#008000" stroke-width="2"/><text class="lg" x="1651.6" y="2202.6">Vy</text>
<line x1="1614.5" y1="2219.8" x2="1635.5" y2="2219.8" stroke="#0000ff" stroke-width="2"/><text class="lg" x="1651.6" y="2224.8">Vz</text>
<text class="yl" x="108" y="2161.3">100</text><text class="yl" x="108" y="2192.8">0</text><text class="yl" x="108" y="2224.3">−100</text><text class="yl" x="108" y="2255.8">−200</text><text class="yl" x="108" y="2287.3">−300</text><text class="yl" x="108" y="2318.8">−400</text><text class="yl" x="108" y="2350.3">−500</text>
<text class="xl" x="357.9" y="2366.5">09/27 12:17</text><text class="xl" x="960.2" y="2366.5">09/27 12:22</text><text class="xl" x="1562.5" y="2366.5">09/27 12:27</text>
<text class="lb" transform="translate(47.5,2250) rotate(-90)">Vsw(km/s)</text>

<!-- ========== Plasma Beta ========== -->
<text class="t" x="900" y="2428">Plasma Beta</text>
<g clip-path="url(#ct5)"><g transform="translate(117,2628) scale(120.46,-37.8)">
<polyline class="ln" stroke="#0000ff" points="0,0.29 1,0.28 2,0.37 3,0.42 4,0.52 5,0.3 6,0.38 7,0.48 8,0.55 9,0.74 10,0.74 11,0.52 12,0.63 13,0.42"/>
<polyline class="ln" stroke="#008000" points="0,0.8 1,0.8 2,1.12 3,1.13 4,1.44 5,0.85 6,1.0 7,1.16 8,1.25 9,1.61 10,1.56 11,1.10 12,1.38 13,0.98"/>
</g></g>
<path class="tc" d="M117 2476.8h8M117 2514.6h8M117 2552.4h8M117 2590.2h8M1683 2476.8h-8M1683 2514.6h-8M1683 2552.4h-8M1683 2590.2h-8M357.9 2628v-8M960.2 2628v-8M1562.5 2628v-8M357.9 2439v8M960.2 2439v8M1562.5 2439v8"/>
<rect class="ax" x="117" y="2439" width="1566" height="189"/>
<rect class="lf" x="1608" y="2446" width="68" height="56.6"/>
<line x1="1617.1" y1="2459.7" x2="1640.1" y2="2459.7" stroke="#0000ff" stroke-width="2"/><text class="lg m" x="1656.2" y="2464.7" style="fill:#555">β<tspan font-size="10" dy="4">p</tspan></text>
<line x1="1617.1" y1="2486.9" x2="1640.1" y2="2486.9" stroke="#008000" stroke-width="2"/><text class="lg m" x="1656.2" y="2491.9" style="fill:#555">β</text>
<text class="yl" x="108" y="2444.8">5</text><text class="yl" x="108" y="2482.6">4</text><text class="yl" x="108" y="2520.4">3</text><text class="yl" x="108" y="2558.2">2</text><text class="yl" x="108" y="2596">1</text><text class="yl" x="108" y="2633.8">0</text>
<text class="xl" x="357.9" y="2650">09/27 12:17</text><text class="xl" x="960.2" y="2650">09/27 12:22</text><text class="xl" x="1562.5" y="2650">09/27 12:27</text>
<text class="lb" transform="translate(79.5,2534) rotate(-90)"><tspan class="m" style="fill:#555">β</tspan><tspan class="m" font-size="10" dy="4" style="fill:#555">p</tspan><tspan dy="-4"> and </tspan><tspan class="m" style="fill:#555">β</tspan></text>

<!-- ========== Proton Number Density ========== -->
<text class="t" x="900" y="2711.5">Proton Number Density</text>
<g clip-path="url(#ct6)"><g transform="translate(117,2911.5) scale(120.46,-6.3)">
<polyline class="ln" stroke="#0000ff" points="0,2.9 1,2.9 2,2.95 3,3.6 4,3.2 5,2.8 6,3.1 7,3.35 8,3.45 9,3.6 10,3.45 11,3.35 12,3.2 13,3.05"/>
</g></g>
<path class="tc" d="M117 2754h8M117 2785.5h8M117 2817h8M117 2848.5h8M117 2880h8M1683 2754h-8M1683 2785.5h-8M1683 2817h-8M1683 2848.5h-8M1683 2880h-8M357.9 2911.5v-8M960.2 2911.5v-8M1562.5 2911.5v-8M357.9 2722.5v8M960.2 2722.5v8M1562.5 2722.5v8"/>
<rect class="ax" x="117" y="2722.5" width="1566" height="189"/>
<text class="yl" x="108" y="2728.3">30</text><text class="yl" x="108" y="2759.8">25</text><text class="yl" x="108" y="2791.3">20</text><text class="yl" x="108" y="2822.8">15</text><text class="yl" x="108" y="2854.3">10</text><text class="yl" x="108" y="2885.8">5</text><text class="yl" x="108" y="2917.3">0</text>
<text class="xl" x="357.9" y="2933.5">09/27 12:17</text><text class="xl" x="960.2" y="2933.5">09/27 12:22</text><text class="xl" x="1562.5" y="2933.5">09/27 12:27</text>
<text class="lb" transform="translate(73,2817) rotate(-90)">Np(#/cc)</text>

<!-- ========== Proton Temperature ========== -->
<text class="t" x="900" y="2995">Proton Temperature and <tspan class="m">T</tspan><tspan class="m" font-size="15" dy="5">e</tspan><tspan class="m" dy="-5">/T</tspan><tspan class="m" font-size="15" dy="5">p</tspan></text>
<g clip-path="url(#ct7)">
<g transform="translate(117,3195) scale(120.46,-378)">
<polyline class="ln" stroke="#0000ff" points="0,0.107 1,0.098 2,0.089 3,0.098 4,0.104 5,0.108 6,0.112 7,0.12 8,0.127 9,0.135 10,0.145 11,0.145 12,0.142 13,0.127"/>
</g>
<g transform="translate(117,3195) scale(120.46,-37.8)">
<polyline class="ln" stroke="#ff0000" points="0,1.7 1,1.88 2,2.05 3,1.81 4,1.78 5,1.78 6,1.7 7,1.47 8,1.3 9,1.22 10,1.11 11,1.11 12,1.17 13,1.28"/>
</g>
</g>
<path class="tc" d="M117 3043.8h8M117 3081.6h8M117 3119.4h8M117 3157.2h8M1683 3043.8h-8M1683 3081.6h-8M1683 3119.4h-8M1683 3157.2h-8M357.9 3195v-8M960.2 3195v-8M1562.5 3195v-8M357.9 3006v8M960.2 3006v8M1562.5 3006v8"/>
<rect class="ax" x="117" y="3006" width="1566" height="189"/>
<rect class="lf" x="123.2" y="3012.7" width="72" height="27.1"/>
<line x1="133.9" y1="3026" x2="156.1" y2="3026" stroke="#0000ff" stroke-width="2"/><text class="lg" x="171.1" y="3031.2">Tp</text>
<rect class="lf" x="1585.8" y="3012.7" width="90.7" height="32.5"/>
<line x1="1595" y1="3028" x2="1617.9" y2="3028" stroke="#ff0000" stroke-width="2"/>
<text class="lg m" x="1633.6" y="3032.5" style="fill:#333">T<tspan font-size="10" dy="4">e</tspan><tspan dy="-4">/T</tspan><tspan font-size="10" dy="4">p</tspan></text>
<text class="yl" x="108" y="3011.8">0.5</text><text class="yl" x="108" y="3049.6">0.4</text><text class="yl" x="108" y="3087.4">0.3</text><text class="yl" x="108" y="3125.2">0.2</text><text class="yl" x="108" y="3163">0.1</text><text class="yl" x="108" y="3200.8">0.0</text>
<g font-size="16">
<text x="1692.5" y="3011.8" style="fill:#ff0000">5</text><text x="1692.5" y="3049.6" style="fill:#ff0000">4</text><text x="1692.5" y="3087.4" style="fill:#ff0000">3</text><text x="1692.5" y="3125.2" style="fill:#ff0000">2</text><text x="1692.5" y="3163" style="fill:#ff0000">1</text><text x="1692.5" y="3200.8" style="fill:#ff0000">0</text>
</g>
<text class="xl" x="357.9" y="3217">09/27 12:17</text><text class="xl" x="960.2" y="3217">09/27 12:22</text><text class="xl" x="1562.5" y="3217">09/27 12:27</text>
<text class="lb" transform="translate(63,3100.5) rotate(-90)">Tp(<tspan font-family="DejaVu Serif, Liberation Serif, serif" font-size="14">10</tspan><tspan font-family="DejaVu Serif, Liberation Serif, serif" font-size="9" dy="-6">6</tspan><tspan font-family="DejaVu Serif, Liberation Serif, serif" font-size="14" dy="6">K</tspan>)</text>
<text class="lb m" transform="translate(1727,3100.5) rotate(-90)" style="fill:#ff0000">T<tspan font-size="11" dy="4">e</tspan><tspan dy="-4">/T</tspan><tspan font-size="11" dy="4">p</tspan></text>
</svg>
</body></html>
